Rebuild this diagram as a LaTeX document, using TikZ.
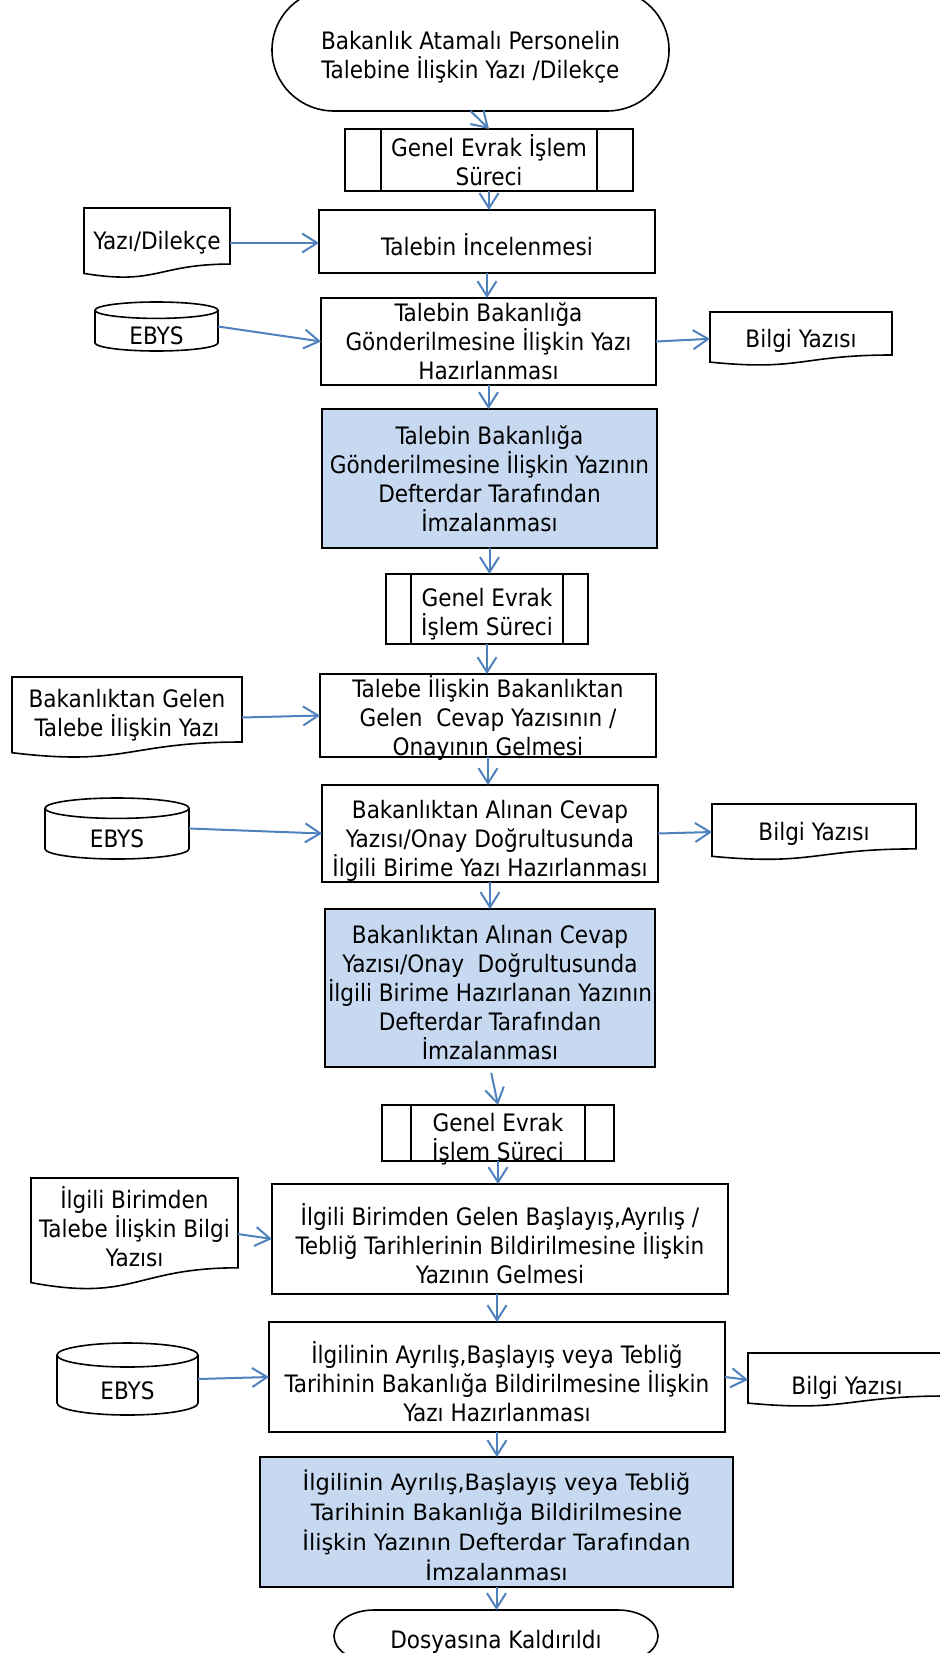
\documentclass[tikz,border=0pt]{standalone}
\usepackage{fontspec}
\setmainfont{DejaVu Sans Condensed}
\newfontfamily\wideface{DejaVu Sans}
\usetikzlibrary{arrows.meta,calc}
\definecolor{arrowblue}{RGB}{79,129,189}
\definecolor{boxblue}{RGB}{198,217,241}
\begin{document}
\begin{tikzpicture}[x=1pt,y=-1pt,
  every node/.style={inner sep=0pt, outer sep=0pt},
  ink/.style={draw=black, line width=1.6pt},
  txt/.style={font=\fontsize{24}{29}\selectfont, align=center, yshift=-4pt,
    execute at begin node={\rule{0pt}{20.3pt}},
    execute at end node={\rule[-8.7pt]{0pt}{0pt}}},
  txtw/.style={txt, font=\wideface\fontsize{22.5}{30}\selectfont, yshift=-3.5pt,
    execute at begin node={\rule{0pt}{21pt}},
    execute at end node={\rule[-9pt]{0pt}{0pt}}},
  box/.style={ink, fill=white},
  bluebox/.style={ink, fill=boxblue},
  plain/.style={draw=none},
  arr/.style={draw=arrowblue, line width=2pt, -{Straight Barb[length=15pt,width=19pt]}},
]
\useasboundingbox (0,0) rectangle (939,1653);

% ---------- start terminator ----------
\draw[ink] (334,-11) -- (607,-11) arc[start angle=-90,end angle=90,x radius=62,y radius=61]
  -- (334,111) arc[start angle=90,end angle=270,x radius=62,y radius=61] -- cycle;
\node[plain, minimum width=397pt, minimum height=122pt,
  label={[txt,yshift=-5pt]center:{Bakanlık Atamalı Personelin\\Talebine İlişkin Yazı /Dilekçe}}] (start) at (470.5,50) {};

% ---------- predefined process A ----------
\node[box, minimum width=288pt, minimum height=62pt,
  label={[txt]center:{Genel Evrak İşlem\\Süreci}}] (pa) at (489,160) {};
\draw[ink] (381,129) -- (381,191);
\draw[ink] (597,129) -- (597,191);

% ---------- r1 ----------
\node[box, minimum width=336pt, minimum height=63pt,
  label={[txt,yshift=-3pt]center:{Talebin İncelenmesi}}] (r1) at (487,241.5) {};

% document d1
\draw[ink] (84,208) -- (230,208) -- (230,264.1) .. controls (157,264.1) and (157,285.5) .. (84,273.4) -- cycle;
\node[plain, minimum width=146pt, minimum height=70pt,
  label={[txt,yshift=3.4pt]center:{Yazı/Dilekçe}}] (d1) at (157,243) {};

% ---------- r2 ----------
\node[box, minimum width=335pt, minimum height=87pt,
  label={[txt]center:{Talebin Bakanlığa\\Gönderilmesine İlişkin Yazı\\Hazırlanması}}] (r2) at (488.5,341.5) {};

% cylinder c1
\draw[ink] (95,310.2) -- (95,342.8) arc[start angle=180,end angle=0,x radius=61.5,y radius=8.2] -- (218,310.2);
\draw[ink] (156.5,310.2) ellipse[x radius=61.5,y radius=8.2];
\node[plain, minimum width=123pt, minimum height=49pt,
  label={[txt,yshift=-8.1pt]center:{EBYS}}] (c1) at (156.5,326.5) {};

% document d2
\draw[ink] (710,312) -- (892,312) -- (892,355) .. controls (801,355) and (801,371.3) .. (710,362.1) -- cycle;
\node[plain, minimum width=182pt, minimum height=53.6pt,
  label={[txt,yshift=1.4pt]center:{Bilgi Yazısı}}] (d2) at (801,338.8) {};

% ---------- b1 ----------
\node[bluebox, minimum width=335pt, minimum height=139pt,
  label={[txt]center:{Talebin Bakanlığa\\Gönderilmesine İlişkin Yazının\\Defterdar Tarafından\\İmzalanması}}] (b1) at (489.5,478.5) {};

% ---------- predefined process B ----------
\node[box, minimum width=202pt, minimum height=70pt,
  label={[txt,yshift=-3.6pt]center:{Genel Evrak\\İşlem Süreci}}] (pb) at (487,609) {};
\draw[ink] (411,574) -- (411,644);
\draw[ink] (563,574) -- (563,644);

% ---------- r3 ----------
\node[box, minimum width=336pt, minimum height=83pt,
  label={[txt]center:{Talebe İlişkin Bakanlıktan\\Gelen~ Cevap Yazısının /\\Onayının Gelmesi}}] (r3) at (488,715.5) {};

% document d3
\draw[ink] (12,677) -- (242,677) -- (242,742) .. controls (127,742) and (127,766.7) .. (12,752.7) -- cycle;
\node[plain, minimum width=230pt, minimum height=81pt,
  label={[txt,yshift=3.9pt]center:{Bakanlıktan Gelen\\Talebe İlişkin Yazı}}] (d3) at (127,717.5) {};

% ---------- r4 ----------
\node[box, minimum width=336pt, minimum height=97pt,
  label={[txt,yshift=-5pt]center:{Bakanlıktan Alınan Cevap\\Yazısı/Onay Doğrultusunda\\İlgili Birime Yazı Hazırlanması}}] (r4) at (490,833.5) {};

% cylinder c2
\draw[ink] (45,808.2) -- (45,848.8) arc[start angle=180,end angle=0,x radius=72,y radius=10.2] -- (189,808.2);
\draw[ink] (117,808.2) ellipse[x radius=72,y radius=10.2];
\node[plain, minimum width=144pt, minimum height=61pt,
  label={[txt,yshift=-9.1pt]center:{EBYS}}] (c2) at (117,828.5) {};

% document d4
\draw[ink] (712,804) -- (916,804) -- (916,848.9) .. controls (814,848.9) and (814,866) .. (712,856.3) -- cycle;
\node[plain, minimum width=204pt, minimum height=56pt,
  label={[txt,yshift=1.4pt]center:{Bilgi Yazısı}}] (d4) at (814,832) {};

% ---------- b2 ----------
\node[bluebox, minimum width=330pt, minimum height=158pt,
  label={[txt,yshift=-4.5pt]center:{Bakanlıktan Alınan Cevap\\Yazısı/Onay~ Doğrultusunda\\İlgili Birime Hazırlanan Yazının\\Defterdar Tarafından\\İmzalanması}}] (b2) at (490,988) {};

% ---------- predefined process C ----------
\node[box, minimum width=232pt, minimum height=56pt,
  label={[txt,yshift=-4.6pt]center:{Genel Evrak\\İşlem Süreci}}] (pc) at (498,1133) {};
\draw[ink] (411,1105) -- (411,1161);
\draw[ink] (585,1105) -- (585,1161);

% ---------- r5 ----------
\node[box, minimum width=456pt, minimum height=110pt,
  label={[txt,yshift=-4.6pt]center:{İlgili Birimden Gelen Başlayış,Ayrılış /\\Tebliğ Tarihlerinin Bildirilmesine İlişkin\\Yazının Gelmesi}}] (r5) at (500,1239) {};

% document d5
\draw[ink] (31,1178) -- (238,1178) -- (238,1267.8) .. controls (134.5,1267.8) and (134.5,1302) .. (31,1282.6) -- cycle;
\node[plain, minimum width=207pt, minimum height=112pt,
  label={[txt,yshift=7.4pt]center:{İlgili Birimden\\Talebe İlişkin Bilgi\\Yazısı}}] (d5) at (134.5,1234) {};

% ---------- r6 ----------
\node[box, minimum width=456pt, minimum height=110pt,
  label={[txt,yshift=-4.6pt]center:{İlgilinin Ayrılış,Başlayış veya Tebliğ\\Tarihinin Bakanlığa Bildirilmesine İlişkin\\Yazı Hazırlanması}}] (r6) at (497,1377) {};

% cylinder c3
\draw[ink] (57,1355) -- (57,1403) arc[start angle=180,end angle=0,x radius=70.5,y radius=12] -- (198,1355);
\draw[ink] (127.5,1355) ellipse[x radius=70.5,y radius=12];
\node[plain, minimum width=141pt, minimum height=72pt,
  label={[txt,yshift=-10.6pt]center:{EBYS}}] (c3) at (127.5,1379) {};

% document d6
\draw[ink] (748,1353) -- (946,1353) -- (946,1396) .. controls (847,1396) and (847,1412.3) .. (748,1403.1) -- cycle;
\node[plain, minimum width=198pt, minimum height=53.6pt,
  label={[txt,yshift=-4.6pt]center:{Bilgi Yazısı}}] (d6) at (847,1379.8) {};

% ---------- b3 ----------
\node[bluebox, minimum width=473pt, minimum height=130pt,
  label={[txtw]center:{İlgilinin Ayrılış,Başlayış veya Tebliğ\\Tarihinin Bakanlığa Bildirilmesine\\İlişkin Yazının Defterdar Tarafından\\İmzalanması}}] (b3) at (496.5,1522) {};

% ---------- end terminator ----------
\draw[ink] (374,1610) -- (618,1610) arc[start angle=-90,end angle=90,x radius=40,y radius=26]
  -- (374,1662) arc[start angle=90,end angle=270,x radius=40,y radius=26] -- cycle;
\node[plain, minimum width=324pt, minimum height=52pt,
  label={[txt,yshift=-2.6pt]center:{Dosyasına Kaldırıldı}}] (fin) at (496,1636) {};

% ---------- connectors ----------
\draw[arr] (start.south) -- (pa.north);
\draw[arr] (pa.south) -- (pa.south |- r1.north);
\draw[arr] (d1.east) -- (d1.east -| r1.west);
\draw[arr] (r1.south) -- (r1.south |- r2.north);
\draw[arr] (c1.east) -- (r2.west);
\draw[arr] (r2.east) -- (d2.west);
\draw[arr] (r2.south) -- (r2.south |- b1.north);
\draw[arr] (b1.south) -- (b1.south |- pb.north);
\draw[arr] (pb.south) -- (pb.south |- r3.north);
\draw[arr] (d3.east) -- (r3.west);
\draw[arr] (r3.south) -- (r3.south |- r4.north);
\draw[arr] (c2.east) -- (r4.west);
\draw[arr] (r4.east) -- (d4.west);
\draw[arr] (r4.south) -- (r4.south |- b2.north);
\draw[arr, shorten <=6pt] (b2.south) -- (pc.north);
\draw[arr] (pc.south) -- (pc.south |- r5.north);
\draw[arr] (d5.east) -- (r5.west);
\draw[arr] (r6.north |- r5.south) -- (r6.north);
\draw[arr] (c3.east) -- (r6.west);
\draw[arr] (r6.east) -- (d6.west);
\draw[arr] (r6.south) -- (r6.south |- b3.north);
\draw[arr] (b3.south) -- (b3.south |- fin.north);
\end{tikzpicture}
\end{document}
